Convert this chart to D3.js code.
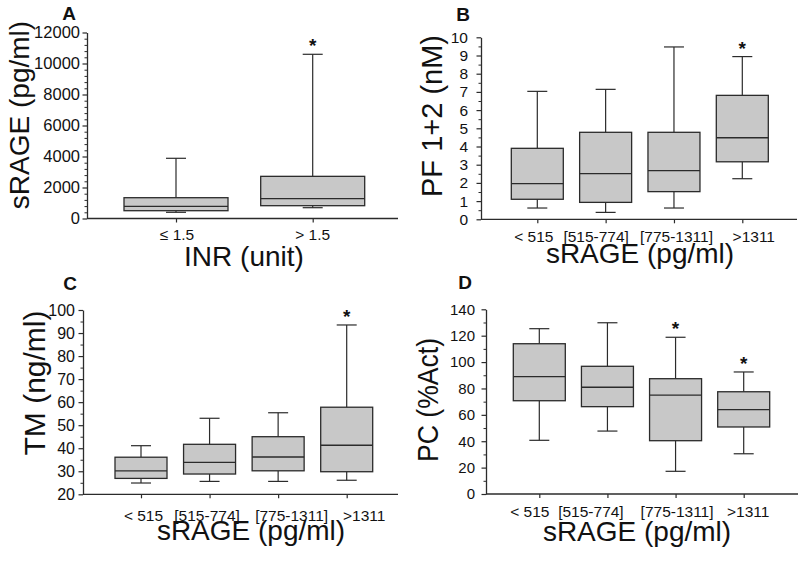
<!DOCTYPE html>
<html>
<head>
<meta charset="utf-8">
<script src="https://cdn.jsdelivr.net/npm/d3@7"></script>
<style>
  html, body { margin: 0; padding: 0; background: #fff; }
  svg { display: block; font-family: "Liberation Sans", Arial, sans-serif; }
</style>
</head>
<body>
<svg id="chart" width="800" height="561"></svg>
<script>
// ---- data: each box is [lower whisker, Q1, median, Q3, upper whisker] ----
const inrCategories = ["≤ 1.5", "> 1.5"];
const sragCategories = ["< 515", "[515-774]", "[775-1311]", ">1311"];

const inrBoxes = [[400, 503, 787, 1342, 3884], [697, 826, 1277, 2720, 10594]];
const pfBoxes  = [[0.62, 1.10, 1.96, 3.90, 7.03], [0.38, 0.93, 2.51, 4.78, 7.14],
                  [0.62, 1.52, 2.67, 4.78, 9.47], [2.23, 3.16, 4.48, 6.81, 8.94]];
const tmBoxes  = [[24.9, 26.9, 30.2, 36.1, 41.1], [25.6, 28.8, 33.9, 41.7, 53.0],
                  [25.6, 30.2, 36.2, 45.0, 55.4], [26.1, 29.8, 41.3, 57.8, 93.5]];
const pcBoxes  = [[40.7, 70.7, 88.9, 113.9, 125.3], [47.7, 66.2, 80.9, 96.8, 129.8],
                  [17.2, 40.4, 75.0, 87.4, 118.8], [30.5, 50.8, 63.9, 77.5, 92.5]];

const inrStars = [false, true];
const pfStars  = [false, false, false, true];
const tmStars  = [false, false, false, true];
const pcStars  = [false, false, true, true];

const inrTicks = [0, 2000, 4000, 6000, 8000, 10000, 12000];
const pfTicks  = [0, 1, 2, 3, 4, 5, 6, 7, 8, 9, 10];
const tmTicks  = [20, 30, 40, 50, 60, 70, 80, 90, 100];
const pcTicks  = [0, 20, 40, 60, 80, 100, 120, 140];

const inrMinorStep = 400, pfMinorStep = 0.5, tmMinorStep = 5, pcMinorStep = 10;

// ---- layout ----
const panels = [
  { letter: "A", lx: 69, ly: 20, cats: inrCategories, boxes: inrBoxes, stars: inrStars,
    ticks: inrTicks, minor: inrMinorStep, yx: 87, yTop: 32.5, yBot: 218.5, xEnd: 398,
    c0: 176, c1: 312.7, boxW: 104, tickFont: 16.5, tickPad: 7, xTickY: 240, labelShift: [0.5, -0.5],
    xlabel: "INR (unit)", xlx: 244, xly: 266, ylabel: "sRAGE (pg/ml)", ylx: 29, yly: 115, ylFont: 28 },
  { letter: "B", lx: 463, ly: 21, cats: sragCategories, boxes: pfBoxes, stars: pfStars,
    ticks: pfTicks, minor: pfMinorStep, yx: 481, yTop: 37.3, yBot: 219.3, xEnd: 797,
    c0: 537.3, c1: 742.3, boxW: 52, tickFont: 15.5, tickPad: 13, xTickY: 242, labelShift: [-4, -10, 2, 11],
    xlabel: "sRAGE (pg/ml)", xlx: 640, xly: 263, ylabel: "PF 1+2 (nM)", ylx: 442, yly: 116, ylFont: 29 },
  { letter: "C", lx: 70, ly: 290, cats: sragCategories, boxes: tmBoxes, stars: tmStars,
    ticks: tmTicks, minor: tmMinorStep, yx: 83, yTop: 310, yBot: 494.3, xEnd: 398,
    c0: 141, c1: 346.7, boxW: 52, tickFont: 16, tickPad: 8, xTickY: 521, labelShift: [2, -3, 13, 17],
    xlabel: "sRAGE (pg/ml)", xlx: 251, xly: 540, ylabel: "TM (ng/ml)", ylx: 45, yly: 383, ylFont: 30 },
  { letter: "D", lx: 465, ly: 289, cats: sragCategories, boxes: pcBoxes, stars: pcStars,
    ticks: pcTicks, minor: pcMinorStep, yx: 486, yTop: 309.3, yBot: 494, xEnd: 798,
    c0: 539.3, c1: 743.7, boxW: 52, tickFont: 15, tickPad: 11, xTickY: 517, labelShift: [-10, -17, 1, 4],
    xlabel: "sRAGE (pg/ml)", xlx: 637, xly: 541, ylabel: "PC (%Act)", ylx: 438, yly: 400, ylFont: 29, ylLen: 124 }
];

const svg = d3.select("#chart");
const stroke = "#2b2b2b";
const boxFill = "#c8c8c8";

panels.forEach(p => {
  const g = svg.append("g");
  const dom = [p.ticks[0], p.ticks[p.ticks.length - 1]];
  const y = d3.scaleLinear().domain(dom).range([p.yBot, p.yTop]);
  const x = d3.scalePoint().domain(p.cats).range([p.c0, p.c1]);

  // minor ticks
  const minorVals = d3.range(dom[0], dom[1] + 1e-9, p.minor)
    .filter(v => !p.ticks.some(t => Math.abs(t - v) < 1e-9));
  g.append("g").attr("transform", `translate(${p.yx},0)`)
    .call(d3.axisLeft(y).tickValues(minorVals).tickSize(2.5).tickFormat(""))
    .call(s => s.select(".domain").remove())
    .selectAll("line").attr("stroke", stroke);

  // y axis
  const ya = g.append("g").attr("transform", `translate(${p.yx},0)`)
    .call(d3.axisLeft(y).tickValues(p.ticks).tickSize(4.5).tickSizeOuter(0).tickPadding(p.tickPad - 4.5).tickFormat(d3.format("d")));
  ya.select(".domain").attr("stroke", stroke).attr("stroke-width", 1.3);
  ya.selectAll("line").attr("stroke", stroke).attr("stroke-width", 1.2);
  ya.selectAll("text").attr("font-size", p.tickFont).attr("font-family", "Liberation Sans, Arial, sans-serif").attr("fill", "#111");

  // x axis
  const xa = g.append("g").attr("transform", `translate(0,${p.yBot})`)
    .call(d3.axisBottom(x).tickSize(4).tickSizeOuter(0).tickPadding(8));
  xa.select(".domain").remove();
  xa.selectAll("line").attr("stroke", stroke).attr("stroke-width", 1.2);
  xa.selectAll("text").attr("font-size", 15.5).attr("font-family", "Liberation Sans, Arial, sans-serif")
    .attr("fill", "#111").attr("dy", null).attr("y", p.xTickY - p.yBot)
    .attr("x", (d, i) => p.labelShift[i]);
  g.append("line").attr("x1", p.yx).attr("x2", p.xEnd).attr("y1", p.yBot).attr("y2", p.yBot)
    .attr("stroke", stroke).attr("stroke-width", 1.3);

  // boxes
  const capW = 20;
  p.boxes.forEach((b, i) => {
    const cx = x(p.cats[i]);
    const bg = g.append("g");
    bg.append("line").attr("x1", cx).attr("x2", cx).attr("y1", y(b[3])).attr("y2", y(b[4]))
      .attr("stroke", stroke).attr("stroke-width", 1.2);
    bg.append("line").attr("x1", cx).attr("x2", cx).attr("y1", y(b[1])).attr("y2", y(b[0]))
      .attr("stroke", stroke).attr("stroke-width", 1.2);
    bg.append("line").attr("x1", cx - capW / 2).attr("x2", cx + capW / 2).attr("y1", y(b[4])).attr("y2", y(b[4]))
      .attr("stroke", stroke).attr("stroke-width", 1.2);
    bg.append("line").attr("x1", cx - capW / 2).attr("x2", cx + capW / 2).attr("y1", y(b[0])).attr("y2", y(b[0]))
      .attr("stroke", stroke).attr("stroke-width", 1.2);
    bg.append("rect").attr("x", cx - p.boxW / 2).attr("width", p.boxW)
      .attr("y", y(b[3])).attr("height", y(b[1]) - y(b[3]))
      .attr("fill", boxFill).attr("stroke", stroke).attr("stroke-width", 1.3);
    bg.append("line").attr("x1", cx - p.boxW / 2).attr("x2", cx + p.boxW / 2).attr("y1", y(b[2])).attr("y2", y(b[2]))
      .attr("stroke", stroke).attr("stroke-width", 1.3);
    if (p.stars[i]) {
      bg.append("text").attr("x", cx).attr("y", y(b[4]) - 2).attr("text-anchor", "middle")
        .attr("font-size", 19).attr("font-weight", "bold").attr("fill", "#111").text("*");
    }
  });

  // labels
  g.append("text").attr("x", p.lx).attr("y", p.ly).attr("text-anchor", "middle")
    .attr("font-size", 19).attr("font-weight", "bold").attr("fill", "#111").text(p.letter);
  g.append("text").attr("x", p.xlx).attr("y", p.xly).attr("text-anchor", "middle")
    .attr("font-size", 28).attr("fill", "#111").text(p.xlabel);
  const yl = g.append("text").attr("transform", `translate(${p.ylx},${p.yly}) rotate(-90)`)
    .attr("text-anchor", "middle").attr("font-size", p.ylFont).attr("fill", "#111").text(p.ylabel);
  if (p.ylLen) yl.attr("textLength", p.ylLen).attr("lengthAdjust", "spacingAndGlyphs");
});
</script>
</body>
</html>
